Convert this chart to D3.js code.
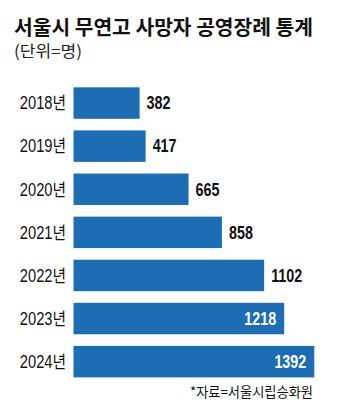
<!DOCTYPE html>
<html>
<head>
<meta charset="utf-8">
<script src="https://cdn.jsdelivr.net/npm/d3@7"></script>
<style>
  body { margin: 0; background: #fff; }
</style>
</head>
<body>
<div id="chart"></div>
<script>
// data
var years = ["2018년", "2019년", "2020년", "2021년", "2022년", "2023년", "2024년"];
var counts = [382, 417, 665, 858, 1102, 1218, 1392];

var w = 351, h = 415;
var sans = "'Liberation Sans', 'Noto Sans CJK KR', sans-serif";
var kr = "'Noto Sans CJK KR', sans-serif";

var svg = d3.select("#chart")
  .append("svg")
    .attr("width", w)
    .attr("height", h);

// scales
var xScale = d3.scaleLinear().domain([0, d3.max(counts)]).range([73.5, 314.3]);
var yScale = d3.scaleBand().domain(years).range([81.5, 383.2]).paddingInner(0.27).paddingOuter(0.135);

// title + unit
svg.append("text")
  .attr("x", 14).attr("y", 35)
  .attr("textLength", 299).attr("lengthAdjust", "spacingAndGlyphs")
  .style("font-family", kr).style("font-weight", 700).style("font-size", "20px")
  .attr("fill", "#111")
  .text("서울시 무연고 사망자 공영장례 통계");

svg.append("text")
  .attr("x", 14).attr("y", 57)
  .attr("textLength", 68).attr("lengthAdjust", "spacingAndGlyphs")
  .style("font-family", kr).style("font-size", "16px")
  .attr("fill", "#222")
  .text("(단위=명)");

var data = years.map(function(y, i) { return { year: y, value: counts[i] }; });

// year labels, condensed
svg.append("g")
  .selectAll("text")
  .data(data)
  .enter().append("text")
    .attr("transform", function(d) {
      return "translate(" + (xScale(0) - 7.5) + "," + (yScale(d.year) + yScale.bandwidth() / 2) + ") scale(0.84,1)";
    })
    .attr("dy", "0.36em")
    .attr("text-anchor", "end")
    .style("font-family", sans).style("font-size", "17.5px")
    .attr("fill", "#111")
    .text(function(d) { return d.year; });

// bars
svg.append("g")
  .selectAll("rect")
  .data(data)
  .enter().append("rect")
    .attr("x", xScale(0))
    .attr("y", function(d) { return yScale(d.year); })
    .attr("width", function(d) { return xScale(d.value) - xScale(0); })
    .attr("height", yScale.bandwidth())
    .attr("fill", "#1c6db3");

// value labels: inside the bar for the longest ones
function inside(d) { return d.value >= 1200; }

svg.append("g")
  .selectAll("text")
  .data(data)
  .enter().append("text")
    .attr("transform", function(d) {
      var x = inside(d) ? xScale(d.value) - 8 : xScale(d.value) + 7;
      return "translate(" + x + "," + (yScale(d.year) + yScale.bandwidth() / 2) + ") scale(0.82,1)";
    })
    .attr("dy", "0.36em")
    .attr("text-anchor", function(d) { return inside(d) ? "end" : "start"; })
    .style("font-family", sans).style("font-weight", 700).style("font-size", "17.5px")
    .attr("fill", function(d) { return inside(d) ? "#fff" : "#111"; })
    .text(function(d) { return d.value; });

// source
svg.append("text")
  .attr("x", 313).attr("y", 397)
  .attr("text-anchor", "end")
  .attr("textLength", 123).attr("lengthAdjust", "spacingAndGlyphs")
  .style("font-family", kr).style("font-size", "13.5px")
  .attr("fill", "#111")
  .text("*자료=서울시립승화원");
</script>
</body>
</html>
